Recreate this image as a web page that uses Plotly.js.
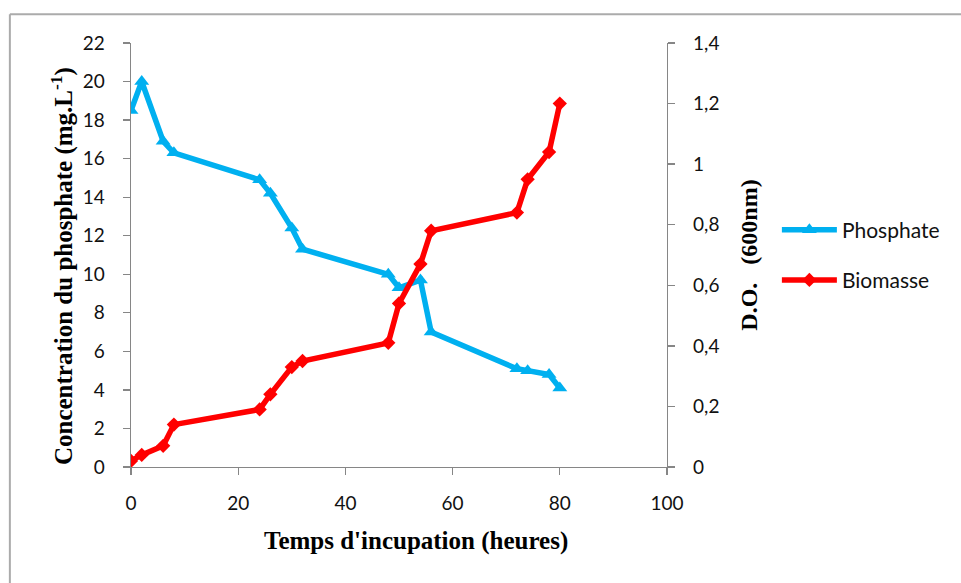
<!DOCTYPE html>
<html>
<head>
<meta charset="utf-8">
<script src="https://cdn.plot.ly/plotly-3.0.1.min.js"></script>
<style>html,body{margin:0;padding:0;background:#fff;}#chart{width:961px;height:583px;}</style>
</head>
<body>
<div id="chart"></div>
<script>
// Data
const timeHours = [0, 2, 6, 8, 24, 26, 30, 32, 48, 50, 54, 56, 72, 74, 78, 80];
const phosphate = [18.5, 20.0, 16.9, 16.3, 14.9, 14.2, 12.4, 11.3, 10.0, 9.3, 9.7, 7.0, 5.1, 5.0, 4.8, 4.1];
const biomasse  = [0.02, 0.04, 0.07, 0.14, 0.19, 0.24, 0.33, 0.35, 0.41, 0.54, 0.67, 0.78, 0.84, 0.95, 1.04, 1.20];
const seriesNames = ["Phosphate", "Biomasse"];
const NB = "\u00A0";
const xTitle = "Temps d'incupation (heures)";
const yTitle = "Concentration du phosphate (mg.L<sup>-1</sup>)";
const y2Title = "D.O." + NB.repeat(3) + "(600nm)";

const tickFont = {family: "Lato, 'Open Sans', sans-serif", size: 19, color: "#111"};
const serif = "'Liberation Serif', 'DejaVu Serif', serif";

const traces = [
  {
    x: timeHours, y: phosphate, name: seriesNames[0], type: "scatter", mode: "lines+markers",
    line: {color: "#00B0F0", width: 5.5},
    marker: {symbol: "triangle-up", size: 13, color: "#00B0F0"},
    legendgroup: "a", yaxis: "y"
  },
  {
    x: timeHours, y: biomasse, name: seriesNames[1], type: "scatter", mode: "lines+markers",
    line: {color: "#FF0000", width: 5.5},
    marker: {symbol: "diamond", size: 11, color: "#FF0000"},
    legendgroup: "b", yaxis: "y2"
  }
];

const axisCommon = {
  showline: true, linecolor: "#868686", linewidth: 1.3,
  ticks: "outside", ticklen: 7, tickcolor: "#868686", tickwidth: 1.3,
  showgrid: false, zeroline: false, tickfont: tickFont
};

const layout = {
  width: 961, height: 583,
  margin: {l: 131, r: 294, t: 43, b: 116},
  paper_bgcolor: "#fff", plot_bgcolor: "#fff",
  separators: ",.",
  showlegend: true,
  legend: {
    x: 1.205, y: 0.5, xanchor: "left", yanchor: "middle",
    font: {family: "Lato, 'Open Sans', sans-serif", size: 21, color: "#111"},
    tracegroupgap: 20, traceorder: "grouped", itemwidth: 55,
    bgcolor: "rgba(0,0,0,0)"
  },
  xaxis: Object.assign({}, axisCommon, {
    range: [0, 100], dtick: 20, tick0: 0, ticklabelstandoff: 12
  }),
  yaxis: Object.assign({}, axisCommon, {
    range: [0, 22], dtick: 2, tick0: 0, ticklabelstandoff: 14
  }),
  yaxis2: Object.assign({}, axisCommon, {
    range: [0, 1.4], dtick: 0.2, tick0: 0, overlaying: "y", side: "right",
    ticklabelstandoff: 14,
    title: {text: y2Title, font: {family: serif, size: 24, color: "#000", weight: "bold"}, standoff: 21}
  }),
  annotations: [
    {text: xTitle, xref: "paper", yref: "paper", x: 0.532, y: -0.1745,
     xanchor: "center", yanchor: "middle", showarrow: false,
     font: {family: serif, size: 25, color: "#000", weight: "bold"}},
    {text: yTitle, xref: "paper", yref: "paper", x: -0.1287, y: 0.474,
     xanchor: "center", yanchor: "middle", showarrow: false, textangle: -90,
     font: {family: serif, size: 25, color: "#000", weight: "bold"}}
  ],
  shapes: [
    {type: "line", xref: "paper", yref: "paper", x0: -0.226, x1: 1.6, y0: 1.068, y1: 1.068,
     line: {color: "#ABABAB", width: 2}},
    {type: "line", xref: "paper", yref: "paper", x0: -0.226, x1: -0.226, y0: 1.068, y1: -0.4,
     line: {color: "#ABABAB", width: 2}}
  ]
};

Plotly.newPlot("chart", traces, layout, {displayModeBar: false, staticPlot: true});
</script>
</body>
</html>
